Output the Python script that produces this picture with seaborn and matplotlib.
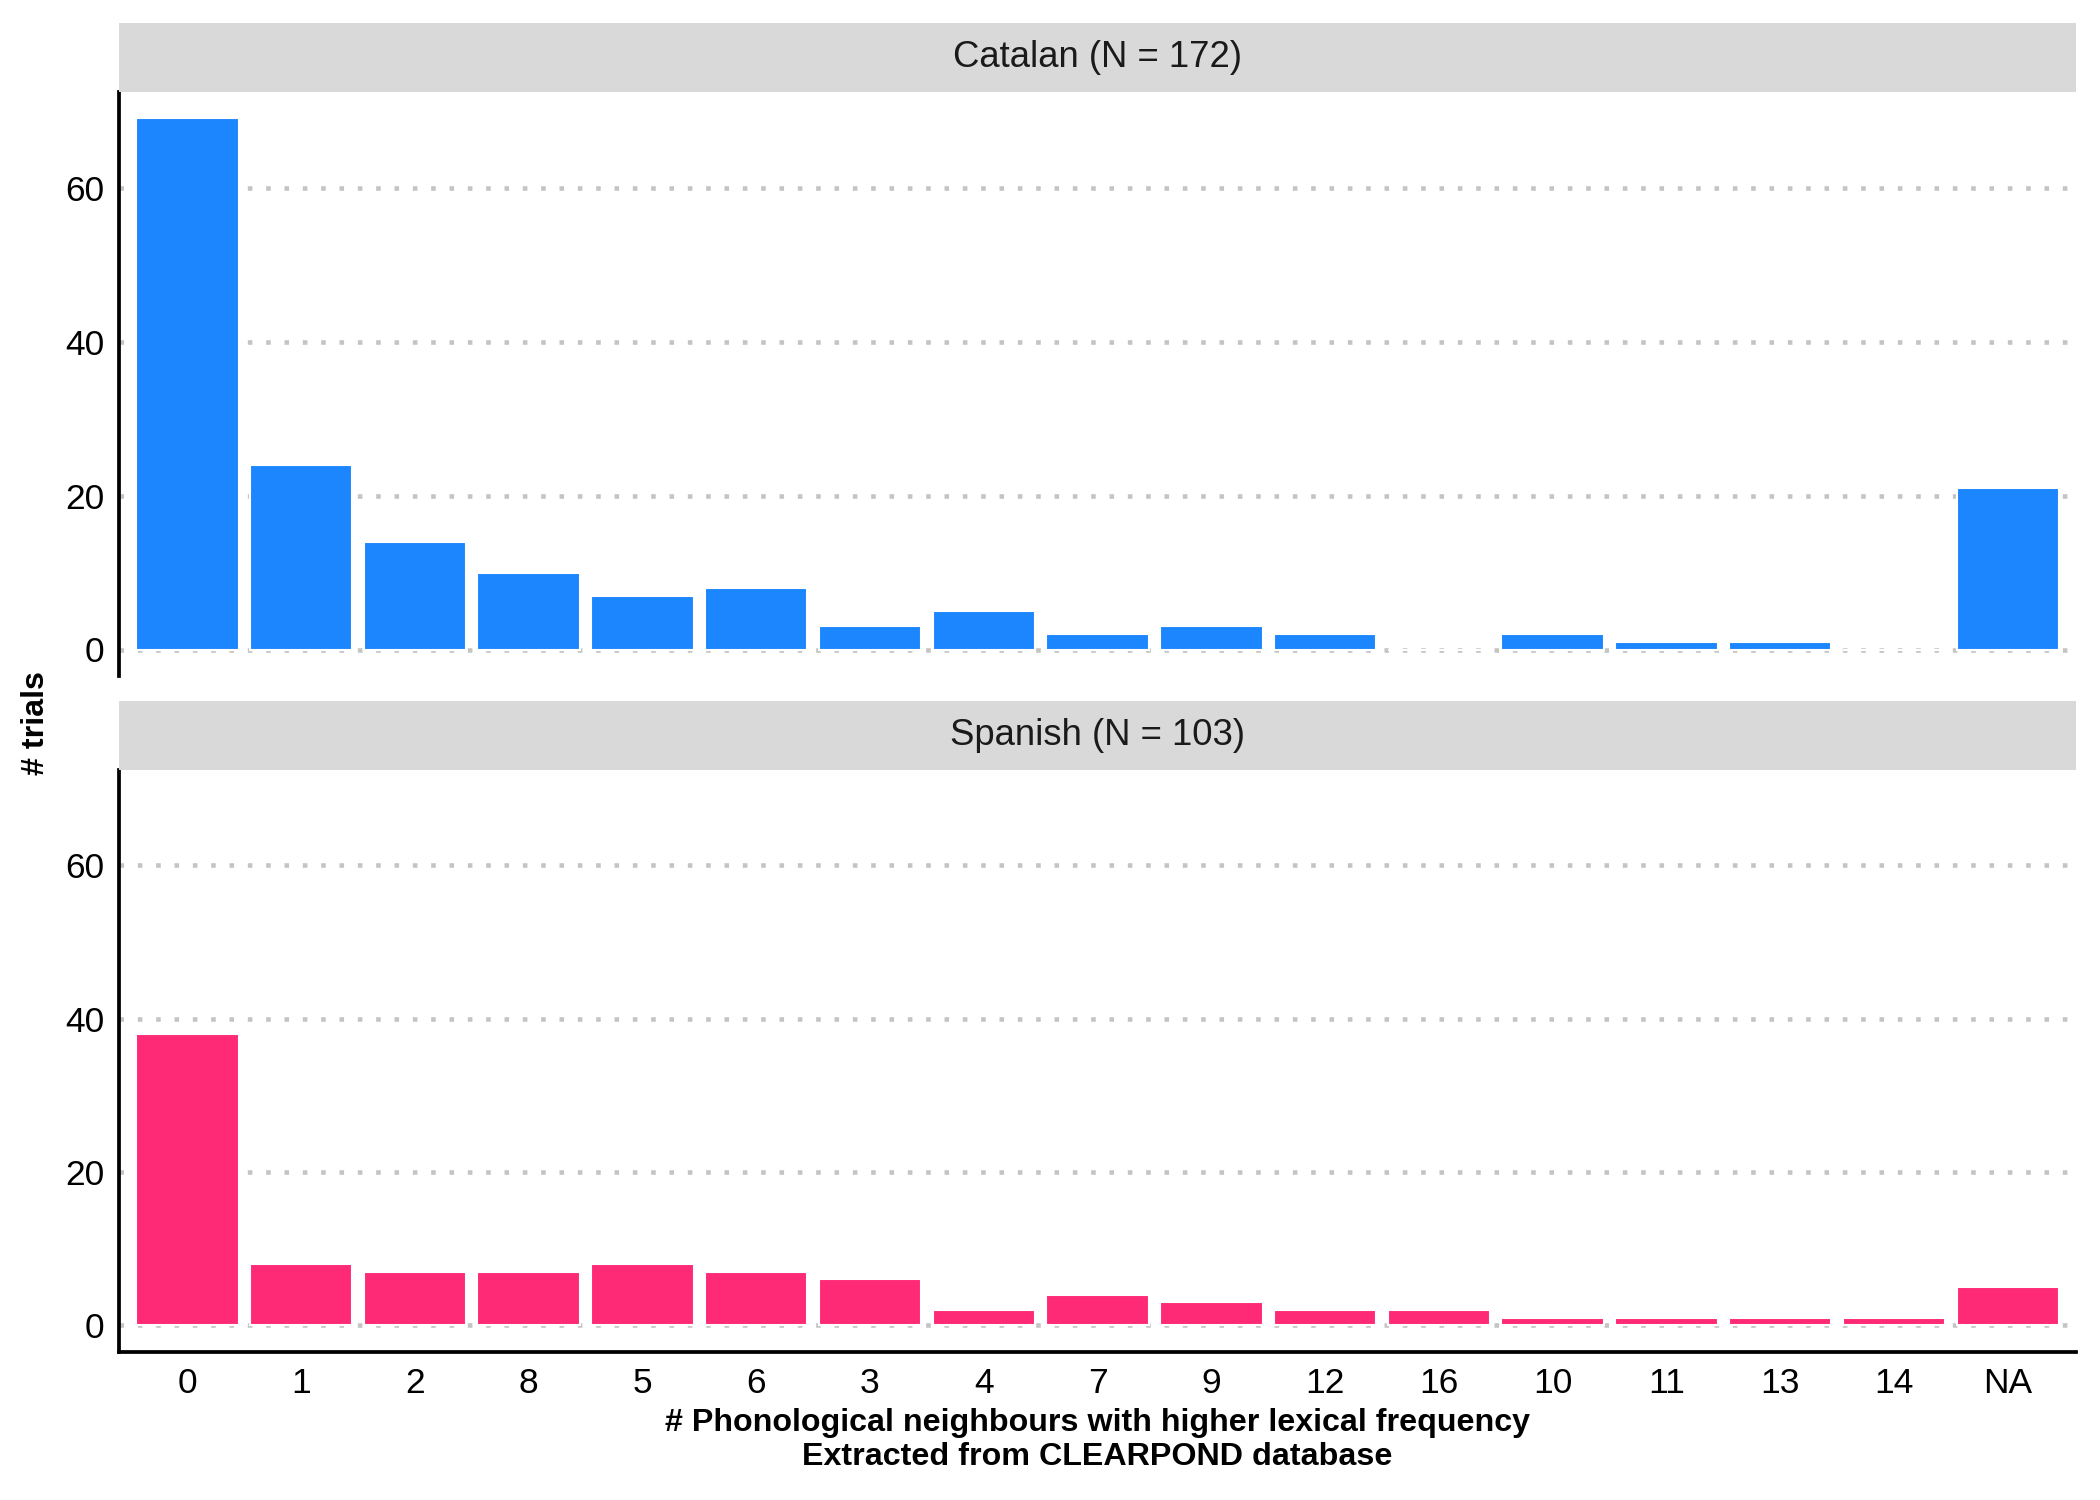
import numpy as np
import pandas as pd
import matplotlib
matplotlib.use("Agg")
import matplotlib.pyplot as plt
import seaborn as sns

# --- data ---
neigh_order = ['0', '1', '2', '8', '5', '6', '3', '4', '7', '9', '12', '16',
               '10', '11', '13', '14', 'NA']
catalan_trials = [69, 24, 14, 10, 7, 8, 3, 5, 2, 3, 2, 0, 2, 1, 1, 0, 21]
spanish_trials = [38, 8, 7, 7, 8, 7, 6, 2, 4, 3, 2, 2, 1, 1, 1, 1, 5]
panel_titles = ['Catalan (N = 172)', 'Spanish (N = 103)']
panel_colors = ['#1C86FF', '#FF2A76']
y_ticks = [0, 20, 40, 60]

sns.set_style('white')
plt.rcParams['font.family'] = ['Liberation Sans', 'DejaVu Sans']

df = pd.concat([
    pd.DataFrame({'neigh': neigh_order, 'trials': catalan_trials, 'lang': 'Catalan'}),
    pd.DataFrame({'neigh': neigh_order, 'trials': spanish_trials, 'lang': 'Spanish'}),
])

fig = plt.figure(figsize=(14, 10), dpi=150)
left, width = 0.0567, 0.9319
panels = [(0.5493, 0.3894), (0.0987, 0.3880)]
strip_h = 0.046
ymax = max(max(catalan_trials), max(spanish_trials))

for i, lang in enumerate(['Catalan', 'Spanish']):
    bottom, height = panels[i]
    ax = fig.add_axes([left, bottom, width, height])
    sub = df[df['lang'] == lang]
    ax.yaxis.grid(True, linestyle=(0, (1, 3)), linewidth=2.2, color='#C4C4C4', zorder=0)
    ax.set_axisbelow(True)
    sns.barplot(data=sub, x='neigh', y='trials', order=neigh_order,
                color=panel_colors[i], width=0.9, saturation=1, ax=ax, zorder=2)
    ax.set_xlim(-0.6, len(neigh_order) - 0.4)
    ax.set_ylim(-0.05 * ymax, 1.05 * ymax)
    ax.set_yticks(y_ticks)
    ax.set_ylabel('')
    ax.set_xlabel('')
    for s in ['top', 'right']:
        ax.spines[s].set_visible(False)
    ax.spines['left'].set_linewidth(1.8)
    ax.spines['left'].set_color('black')
    ax.tick_params(axis='y', length=5, width=1.8, labelsize=17, colors='black', pad=2)
    if i == 0:
        ax.spines['bottom'].set_visible(False)
        ax.tick_params(axis='x', bottom=False, labelbottom=False)
    else:
        ax.spines['bottom'].set_linewidth(1.8)
        ax.spines['bottom'].set_color('black')
        ax.tick_params(axis='x', length=5, width=1.8, labelsize=17, colors='black', pad=2)
        ax.set_xlabel('# Phonological neighbours with higher lexical frequency\n'
                      'Extracted from CLEARPOND database',
                      fontsize=15.5, fontweight='bold', labelpad=4, linespacing=1.2,
                      color='black')

    # facet strip
    sax = fig.add_axes([left, bottom + height, width, strip_h])
    sax.set_facecolor('#D9D9D9')
    sax.set_xticks([])
    sax.set_yticks([])
    for s in sax.spines.values():
        s.set_visible(False)
    sax.text(0.5, 0.5, panel_titles[i], ha='center', va='center',
             fontsize=17.5, color='#1A1A1A', transform=sax.transAxes)

fig.text(0.017, 0.518, '# trials', rotation=90, ha='center', va='center',
         fontsize=15.5, fontweight='bold', color='black')

fig.savefig('out.png', dpi=150)
